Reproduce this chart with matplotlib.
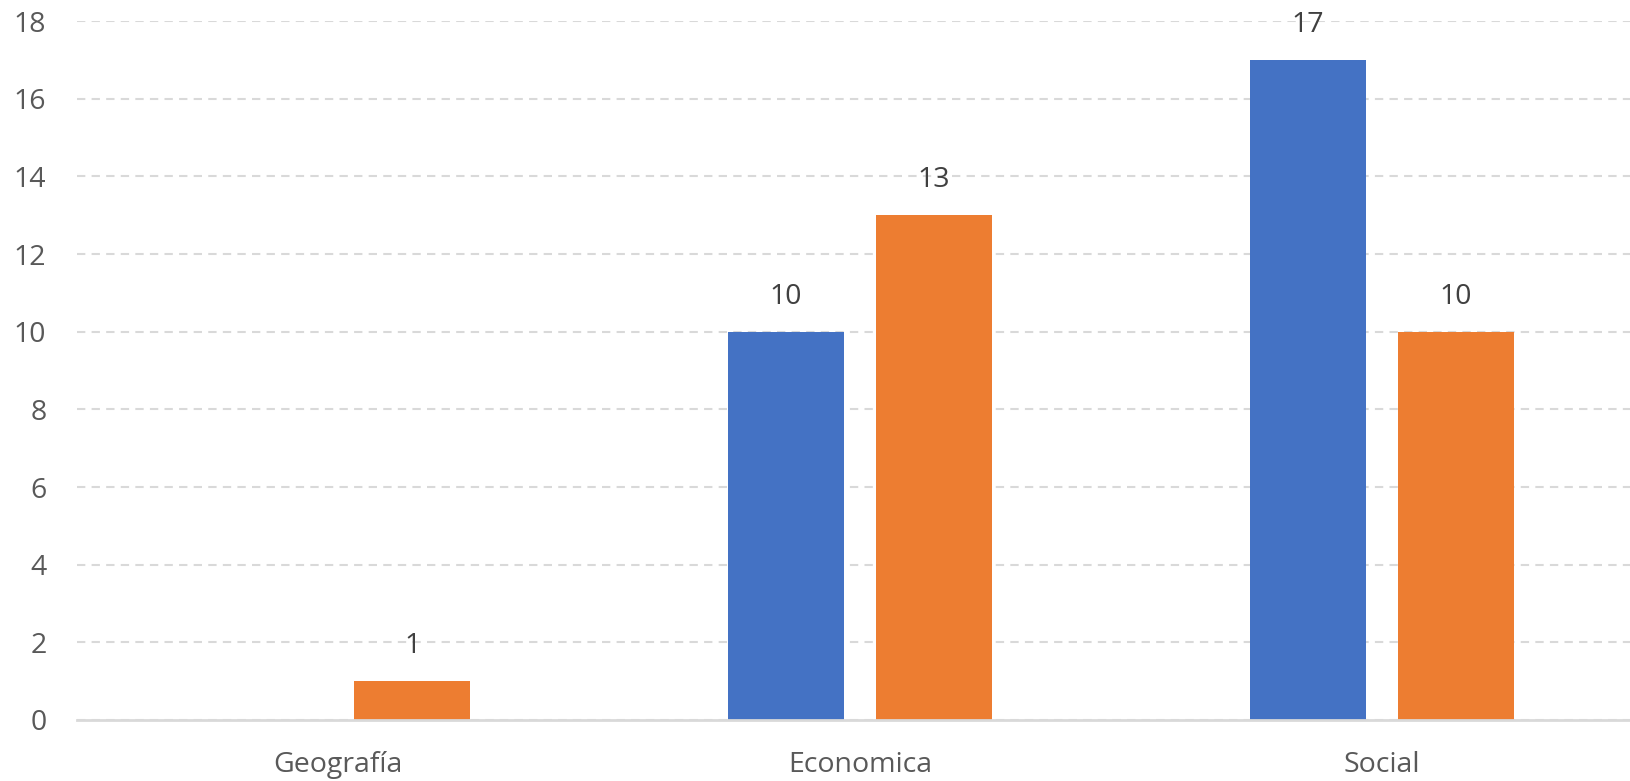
import matplotlib
matplotlib.use("Agg")
import matplotlib.pyplot as plt
import numpy as np

categories = ["Geografía", "Economica", "Social"]
series_a = [0, 10, 17]
series_b = [1, 13, 10]
yticks = [0, 2, 4, 6, 8, 10, 12, 14, 16, 18]

plt.rcParams['font.family'] = ['Open Sans', 'DejaVu Sans']

fig = plt.figure(figsize=(16.31, 7.81), dpi=100)
ax = fig.add_axes([77/1631, 61/781, 1 - 77/1631, 699/781])

x = np.arange(len(categories))
w = 0.2233
off = 0.142
ba = ax.bar(x - off, series_a, width=w, color="#4472C4", zorder=3)
bb = ax.bar(x + off, series_b, width=w, color="#ED7D31", zorder=3)

for bars, vals in ((ba, series_a), (bb, series_b)):
    for r, v in zip(bars, vals):
        if v == 0:
            continue
        ax.annotate(str(v), (r.get_x() + r.get_width()/2, v), xytext=(0, 15),
                    textcoords="offset points", ha="center", va="bottom",
                    fontsize=20.5, color="#404040")

ax.set_xlim(-0.5, 2.477)
ax.set_ylim(0, 18)
ax.set_yticks(yticks)
ax.set_xticks(x)
ax.set_xticklabels(categories)
ax.yaxis.grid(True, color="#D9D9D9", linestyle=(0, (4, 3)), linewidth=1.5, zorder=0)
ax.set_axisbelow(True)
for s in ["top", "right", "left"]:
    ax.spines[s].set_visible(False)
ax.spines["bottom"].set_color("#D9D9D9")
ax.spines["bottom"].set_linewidth(2)
ax.spines["bottom"].set_zorder(4)
ax.tick_params(axis="both", length=0, labelsize=20.5, labelcolor="#595959")
ax.tick_params(axis="y", pad=22)
ax.tick_params(axis="x", pad=22)

fig.savefig("out.png", dpi=100)
